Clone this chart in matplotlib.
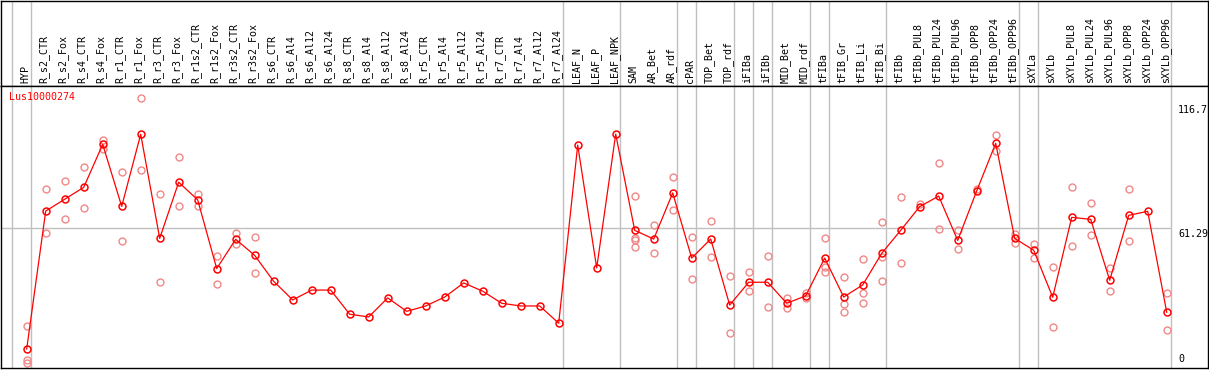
import numpy as np
import matplotlib
matplotlib.use("Agg")
import matplotlib.pyplot as plt
import matplotlib.transforms as mtransforms

# column labels
labels = ['HYP', 'R_s2_CTR', 'R_s2_Fox', 'R_s4_CTR', 'R_s4_Fox', 'R_r1_CTR', 'R_r1_Fox',
          'R_r3_CTR', 'R_r3_Fox', 'R_r1s2_CTR', 'R_r1s2_Fox', 'R_r3s2_CTR', 'R_r3s2_Fox',
          'R_s6_CTR', 'R_s6_Al4', 'R_s6_Al12', 'R_s6_Al24', 'R_s8_CTR', 'R_s8_Al4',
          'R_s8_Al12', 'R_s8_Al24', 'R_r5_CTR', 'R_r5_Al4', 'R_r5_Al12', 'R_r5_Al24',
          'R_r7_CTR', 'R_r7_Al4', 'R_r7_Al12', 'R_r7_Al24', 'LEAF_N', 'LEAF_P', 'LEAF_NPK',
          'SAM', 'AR_Bet', 'AR_rdf', 'cPAR', 'TOP_Bet', 'TOP_rdf', 'iFIBa', 'iFIBb',
          'MID_Bet', 'MID_rdf', 'tFIBa', 'tFIB_Gr', 'tFIB_Li', 'tFIB_Bi', 'tFIBb',
          'tFIBb_PUL8', 'tFIBb_PUL24', 'tFIBb_PUL96', 'tFIBb_OPP8', 'tFIBb_OPP24', 'tFIBb_OPP96',
          'sXYLa', 'sXYLb', 'sXYLb_PUL8', 'sXYLb_PUL24', 'sXYLb_PUL96', 'sXYLb_OPP8',
          'sXYLb_OPP24', 'sXYLb_OPP96']

# mean expression per column
means = [7.4, 69.0, 74.3, 79.6, 98.8, 71.1, 103.3, 56.8, 81.9, 74.0, 43.3, 56.4, 49.2,
         37.6, 29.3, 33.7, 33.7, 22.9, 21.7, 30.2, 24.2, 26.6, 30.6, 36.9, 33.2, 27.8,
         26.6, 26.6, 18.9, 98.5, 43.6, 103.4, 60.4, 56.5, 77.1, 48.0, 56.5, 27.0, 37.2,
         37.2, 27.8, 31.1, 48.0, 30.6, 36.0, 50.1, 60.4, 71.0, 75.7, 55.9, 78.0, 99.3,
         56.8, 51.5, 30.5, 66.2, 65.3, 38.1, 67.1, 68.9, 23.8]

# replicate values per column
reps = [[17.6, 2.5, 1.0], [78.7, 59.1], [82.6, 65.3], [88.6, 70.2], [100.8, 96.6],
        [86.6, 55.5], [119.4, 87.2], [76.5, 37.2], [93.0, 71.1], [76.6, 71.1],
        [48.8, 36.6], [59.2, 54.2], [57.3, 41.2],
        [], [], [], [], [], [], [], [], [], [], [], [], [], [], [], [],
        [], [], [],
        [75.7, 57.1, 56.1, 52.8], [62.8, 50.1], [84.1, 69.3], [57.3, 38.5], [64.6, 48.5],
        [39.9, 14.4], [41.8, 33.2], [48.8, 26.0], [30.0, 25.6], [32.3, 30.0],
        [56.8, 44.0, 41.6], [39.4, 27.6, 24.0], [47.6, 32.3, 27.8], [64.0, 48.6, 37.6],
        [75.2, 45.7], [72.2], [90.3, 60.9], [60.5, 51.9], [78.7], [102.9, 96.0],
        [58.8, 54.9], [54.3, 47.9], [43.9, 17.1], [79.6, 53.3], [72.5, 58.2],
        [43.4, 33.3], [78.7, 55.5], [], [32.3, 15.7]]

# first column of each group
group_starts = [0, 1, 29, 32, 35, 36, 38, 39, 40, 42, 43, 46, 53, 54, 61]
gene = 'Lus10000274'
y_max = 116.7
y_mid = 61.29

W, H = 1209, 370
fig = plt.figure(figsize=(W / 100, H / 100), dpi=100)
mono = 'DejaVu Sans Mono'
fs = 7.2

x = np.arange(len(labels))
xl = ((1 - 26.7) / 19, (1208 - 26.7) / 19)
edges = np.array(group_starts) - 0.79
grey = '#c0c0c0'

# header with rotated column names
hdr = fig.add_axes([1 / W, (H - 86) / H, 1207 / W, 85.5 / H])
hdr.set_xlim(*xl)
hdr.set_ylim(0, 1)
hdr.set_xticks([])
hdr.set_yticks([])
for s in hdr.spines.values():
    s.set_color('black')
    s.set_linewidth(1.0)
for e in edges:
    hdr.axvline(e, color=grey, lw=1.0)
trans = mtransforms.blended_transform_factory(hdr.transData, hdr.transAxes)
for i, lab in enumerate(labels):
    hdr.text(i - 0.08, 0.03, lab, rotation=90, ha='center', va='bottom',
             fontsize=fs, family=mono, transform=trans)

# main plot
ax = fig.add_axes([1 / W, 2 / H, 1207 / W, 282 / H])
ax.set_xlim(*xl)
ax.set_ylim((365.5 - 368) / 2.238, (365.5 - 86) / 2.238)
ax.set_xticks([])
ax.set_yticks([])
for s in ax.spines.values():
    s.set_color('black')
    s.set_linewidth(1.0)
for e in edges:
    ax.axvline(e, color=grey, lw=1.0, zorder=1)
ax.hlines(y_mid, xl[0], edges[-1], color=grey, lw=1.0, zorder=1)

for i, r in enumerate(reps):
    if r:
        ax.plot([i] * len(r), r, 'o', ms=5, mfc='none', mec='#f08888', mew=1.0, zorder=2)

ax.plot(x, means, '-', color='red', lw=0.9, zorder=3)
ax.plot(x, means, 'o', ms=5, mfc='none', mec='red', mew=1.1, zorder=4)

ax.text(-0.93, 120.1, gene, color='red', fontsize=fs, family=mono, va='center', ha='left')

xlab = (1178 - 26.7) / 19
ax.text(xlab, y_max - 0.4, f'{y_max}', fontsize=fs, family=mono, va='top', ha='left')
ax.text(xlab, y_mid - 0.4, f'{y_mid}', fontsize=fs, family=mono, va='top', ha='left')
ax.text(xlab, 0.5, '0', fontsize=fs, family=mono, va='bottom', ha='left')

fig.savefig('out.png', dpi=100)
